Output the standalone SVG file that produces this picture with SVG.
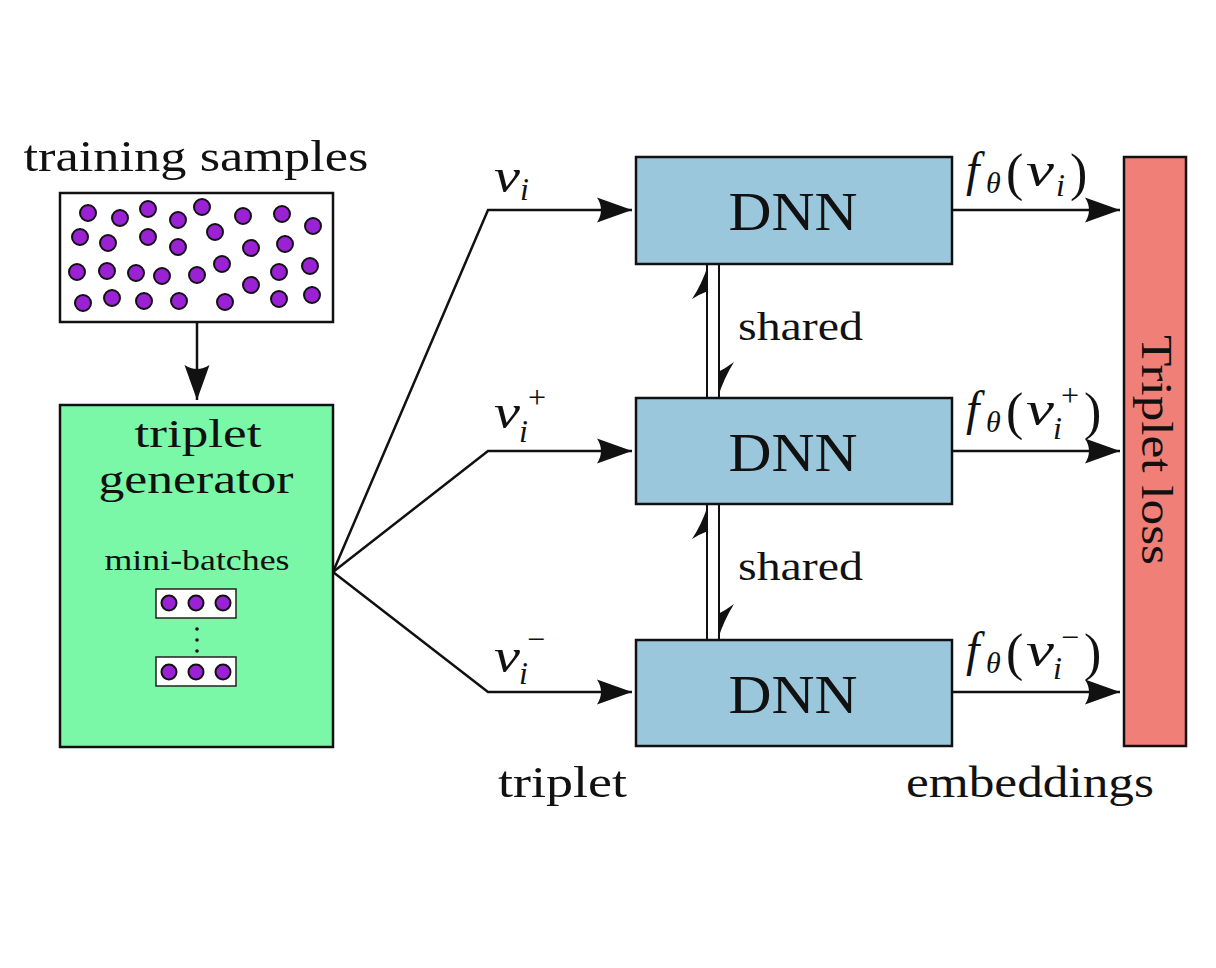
<svg xmlns="http://www.w3.org/2000/svg" width="1216" height="968" viewBox="0 0 1216 968">
<style>
.t{font-family:"Liberation Serif","Times New Roman",serif;fill:#111}
.m{font-family:"Liberation Serif","Times New Roman",serif;font-style:italic;fill:#111}
.box{stroke:#111;stroke-width:2.5}
.dot{fill:#9b22d4;stroke:#111;stroke-width:2}
.ln{fill:none;stroke:#111;stroke-width:2.5}
</style>
<defs>
<marker id="ah" markerUnits="userSpaceOnUse" markerWidth="40" markerHeight="30" viewBox="-36 -15 38 30" refX="0" refY="0" orient="auto">
<path d="M0,0 L-35,-12.5 Q-27,0 -35,12.5 Z" fill="#111"/>
</marker>
</defs>
<rect width="1216" height="968" fill="#fff"/>

<g id="training-samples">
<text class="t" x="196" y="171" font-size="44" text-anchor="middle" textLength="345" lengthAdjust="spacingAndGlyphs">training samples</text>
<rect class="box" x="60" y="193" width="273" height="129" fill="#fff"/>
<g>
<circle class="dot" cx="88" cy="213" r="8"/><circle class="dot" cx="120" cy="218" r="8"/><circle class="dot" cx="148" cy="209" r="8"/><circle class="dot" cx="178" cy="220" r="8"/><circle class="dot" cx="202" cy="207" r="8"/><circle class="dot" cx="243" cy="216" r="8"/><circle class="dot" cx="282" cy="214" r="8"/><circle class="dot" cx="313" cy="226" r="8"/>
<circle class="dot" cx="80" cy="237" r="8"/><circle class="dot" cx="108" cy="243" r="8"/><circle class="dot" cx="148" cy="237" r="8"/><circle class="dot" cx="178" cy="247" r="8"/><circle class="dot" cx="215" cy="232" r="8"/><circle class="dot" cx="251" cy="248" r="8"/><circle class="dot" cx="285" cy="244" r="8"/>
<circle class="dot" cx="77" cy="272" r="8"/><circle class="dot" cx="107" cy="271" r="8"/><circle class="dot" cx="136" cy="273" r="8"/><circle class="dot" cx="162" cy="276" r="8"/><circle class="dot" cx="197" cy="275" r="8"/><circle class="dot" cx="222" cy="264" r="8"/><circle class="dot" cx="279" cy="272" r="8"/><circle class="dot" cx="310" cy="266" r="8"/>
<circle class="dot" cx="83" cy="303" r="8"/><circle class="dot" cx="112" cy="298" r="8"/><circle class="dot" cx="144" cy="301" r="8"/><circle class="dot" cx="179" cy="301" r="8"/><circle class="dot" cx="225" cy="302" r="8"/><circle class="dot" cx="251" cy="285" r="8"/><circle class="dot" cx="279" cy="299" r="8"/><circle class="dot" cx="312" cy="295" r="8"/>
</g>
</g>

<g id="triplet-generator">
<rect class="box" x="60" y="405" width="273" height="342" fill="#7af8a8"/>
<text class="t" x="198" y="447" font-size="40" text-anchor="middle" textLength="127" lengthAdjust="spacingAndGlyphs">triplet</text>
<text class="t" x="196" y="493" font-size="40" text-anchor="middle" textLength="195" lengthAdjust="spacingAndGlyphs">generator</text>
<text class="t" x="197" y="570" font-size="30" text-anchor="middle" textLength="185" lengthAdjust="spacingAndGlyphs">mini-batches</text>
<rect x="156" y="589" width="80" height="29" fill="#fff" stroke="#222" stroke-width="1.5"/>
<circle class="dot" cx="169" cy="603" r="7.5"/><circle class="dot" cx="196" cy="603" r="7.5"/><circle class="dot" cx="223" cy="603" r="7.5"/>
<circle cx="197" cy="629" r="1.8" fill="#111"/><circle cx="197" cy="640" r="1.8" fill="#111"/><circle cx="197" cy="651" r="1.8" fill="#111"/>
<rect x="156" y="657" width="80" height="29" fill="#fff" stroke="#222" stroke-width="1.5"/>
<circle class="dot" cx="169" cy="672" r="7.5"/><circle class="dot" cx="196" cy="672" r="7.5"/><circle class="dot" cx="223" cy="672" r="7.5"/>
</g>

<g id="dnn1">
<rect class="box" x="636" y="157" width="316" height="107" fill="#9bc7dd"/>
<text class="t" x="793" y="230" font-size="54" text-anchor="middle" textLength="129" lengthAdjust="spacingAndGlyphs">DNN</text>
</g>
<g id="dnn2">
<rect class="box" x="636" y="398" width="316" height="106" fill="#9bc7dd"/>
<text class="t" x="793" y="471" font-size="54" text-anchor="middle" textLength="129" lengthAdjust="spacingAndGlyphs">DNN</text>
</g>
<g id="dnn3">
<rect class="box" x="636" y="640" width="316" height="106" fill="#9bc7dd"/>
<text class="t" x="793" y="713" font-size="54" text-anchor="middle" textLength="129" lengthAdjust="spacingAndGlyphs">DNN</text>
</g>

<g id="triplet-loss">
<rect class="box" x="1124" y="157" width="62" height="589" fill="#ef7f77"/>
<text class="t" transform="translate(1142,450) rotate(90)" x="0" y="0" font-size="44" text-anchor="middle" textLength="230" lengthAdjust="spacingAndGlyphs">Triplet loss</text>
</g>

<g id="connectors">
<path class="ln" d="M197,322 V400" marker-end="url(#ah)"/>
<path class="ln" d="M333,572 L488,210 H632" marker-end="url(#ah)"/>
<path class="ln" d="M333,572 L488,451 H632" marker-end="url(#ah)"/>
<path class="ln" d="M333,572 L488,692 H632" marker-end="url(#ah)"/>
<path class="ln" d="M952,210 H1120" marker-end="url(#ah)"/>
<path class="ln" d="M952,451 H1120" marker-end="url(#ah)"/>
<path class="ln" d="M952,692 H1120" marker-end="url(#ah)"/>
<g id="shared-1">
<path d="M707,264 V398 M719,264 V398" stroke="#111" stroke-width="2"/>
<path d="M708,265 Q702,284 692,299 Q700,294 708,291 Z" fill="#111"/>
<path d="M718,397 Q724,378 734,362 Q726,368 718,372 Z" fill="#111"/>
</g>
<g id="shared-2">
<path d="M707,504 V640 M719,504 V640" stroke="#111" stroke-width="2"/>
<path d="M708,505 Q702,524 692,539 Q700,534 708,531 Z" fill="#111"/>
<path d="M718,639 Q724,620 734,604 Q726,610 718,614 Z" fill="#111"/>
</g>
</g>

<g id="labels">
<text class="t" x="738" y="340" font-size="40" textLength="125" lengthAdjust="spacingAndGlyphs">shared</text>
<text class="t" x="738" y="580" font-size="40" textLength="125" lengthAdjust="spacingAndGlyphs">shared</text>
<text class="t" x="498" y="797" font-size="44" textLength="129" lengthAdjust="spacingAndGlyphs">triplet</text>
<text class="t" x="906" y="797" font-size="44" textLength="248" lengthAdjust="spacingAndGlyphs">embeddings</text>

<g id="label-vi">
<text class="m" x="494" y="192" font-size="48" textLength="26" lengthAdjust="spacingAndGlyphs">v</text>
<text class="m" x="520" y="200" font-size="32">i</text>
</g>
<g id="label-vi-plus">
<text class="m" x="494" y="428" font-size="48" textLength="26" lengthAdjust="spacingAndGlyphs">v</text>
<text class="m" x="519" y="442" font-size="32">i</text>
<text class="t" x="528" y="408" font-size="32">+</text>
</g>
<g id="label-vi-minus">
<text class="m" x="494" y="672" font-size="48" textLength="26" lengthAdjust="spacingAndGlyphs">v</text>
<text class="m" x="519" y="684" font-size="32">i</text>
<text class="t" x="527" y="650" font-size="32">−</text>
</g>

<g id="label-f1">
<text class="m" x="966" y="186" font-size="48">f</text>
<text class="m" x="986" y="193" font-size="30">θ</text>
<text class="t" x="1006" y="190" font-size="52">(</text>
<text class="m" x="1026" y="186" font-size="48" textLength="28" lengthAdjust="spacingAndGlyphs">v</text>
<text class="m" x="1056" y="196" font-size="32">i</text>
<text class="t" x="1070" y="190" font-size="52">)</text>
</g>
<g id="label-f2">
<text class="m" x="966" y="425" font-size="48">f</text>
<text class="m" x="986" y="432" font-size="30">θ</text>
<text class="t" x="1006" y="429" font-size="52">(</text>
<text class="m" x="1026" y="425" font-size="48" textLength="28" lengthAdjust="spacingAndGlyphs">v</text>
<text class="m" x="1053" y="439" font-size="32">i</text>
<text class="t" x="1061" y="406" font-size="32">+</text>
<text class="t" x="1084" y="429" font-size="52">)</text>
</g>
<g id="label-f3">
<text class="m" x="966" y="666" font-size="48">f</text>
<text class="m" x="986" y="673" font-size="30">θ</text>
<text class="t" x="1006" y="670" font-size="52">(</text>
<text class="m" x="1026" y="666" font-size="48" textLength="28" lengthAdjust="spacingAndGlyphs">v</text>
<text class="m" x="1053" y="679" font-size="32">i</text>
<text class="t" x="1061" y="648" font-size="32">−</text>
<text class="t" x="1084" y="670" font-size="52">)</text>
</g>
</g>
</svg>
